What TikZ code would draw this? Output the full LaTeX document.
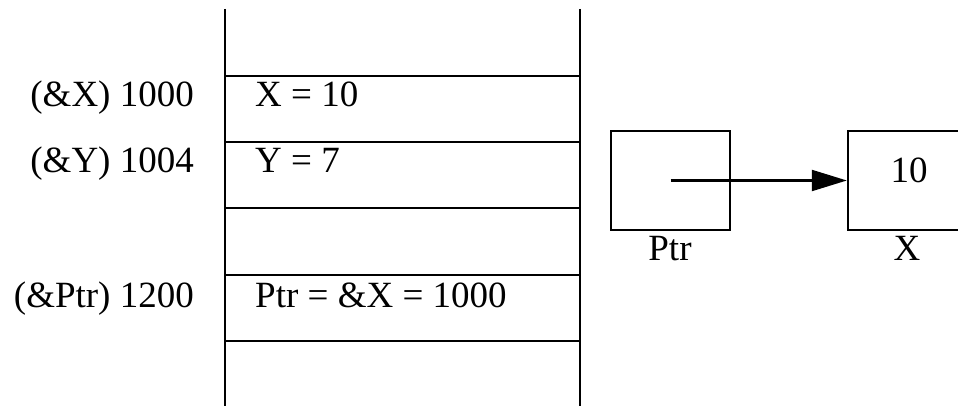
\documentclass[tikz,border=0pt]{standalone}
\usepackage{fontspec}
\setmainfont{Liberation Serif}
\usetikzlibrary{arrows.meta}
\begin{document}
\begin{tikzpicture}[x=1pt,y=-1pt,line width=2.4pt,
  every node/.style={font=\fontsize{37}{44}\selectfont, inner sep=0pt},
  cellbox/.style={draw, minimum width=119pt, minimum height=99pt}]
\useasboundingbox (0,0) rectangle (958,406);
% memory column
\draw (225,9) -- (225,406);
\draw (580,9) -- (580,406);
\foreach \y in {76,142,208,275,341}
  \draw (225,\y) -- (580,\y);
\node[anchor=base east] (ax) at (195,107) {(\&X) 1000};
\node[anchor=base east] (ay) at (195,173) {(\&Y) 1004};
\node[anchor=base east] (ap) at (195,307) {(\&Ptr) 1200};
\node[anchor=base west] (cx) at (254,107) {X = 10};
\node[anchor=base west] (cy) at (254,173) {Y = 7};
\node[anchor=base west] (cp) at (254,307) {Ptr = \&X = 1000};
% boxes
\node[cellbox] (ptr) at (670.5,180.5) {};
\node[cellbox] (x) at (907.5,180.5) {};
\node[anchor=base] (xval) at (909,183) {10};
\node[anchor=base] (ptrname) at (670,260) {Ptr};
\node[anchor=base] (xname) at (907,260) {X};
\draw[-{Triangle[length=35pt,width=21pt]}, line width=2.2pt] (ptr.center) -- (x.west);
\end{tikzpicture}
\end{document}
